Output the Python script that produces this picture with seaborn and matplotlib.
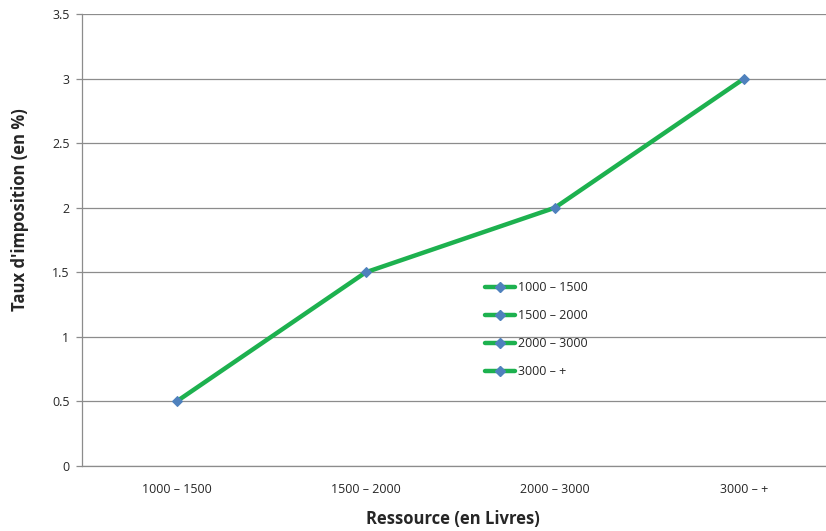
import matplotlib.pyplot as plt
import seaborn as sns
import pandas as pd
from matplotlib.lines import Line2D
from matplotlib.ticker import FuncFormatter

# Data
tranches = ['1000 – 1500', '1500 – 2000', '2000 – 3000', '3000 – +']
taux = [0.5, 1.5, 2.0, 3.0]

df = pd.DataFrame({'tranche': tranches, 'taux': taux})

sns.set_style('white')
plt.rcParams['font.family'] = ['Open Sans', 'DejaVu Sans']

green = '#1db14f'
blue = '#4f81bd'
grey = '#8c8c8c'

fig = plt.figure(figsize=(8.26, 5.31), dpi=100)
ax = fig.add_axes([0.0993, 0.1224, 0.916, 0.8512])

sns.lineplot(data=df, x='tranche', y='taux', ax=ax, color=green, linewidth=3.2,
             marker='D', markersize=5, markerfacecolor=blue, markeredgecolor=blue,
             sort=False, zorder=3)

ax.set_xlim(-0.5, 3.5)
ax.set_ylim(0, 3.5)
ax.set_yticks([0, 0.5, 1, 1.5, 2, 2.5, 3, 3.5])
ax.yaxis.set_major_formatter(FuncFormatter(lambda v, p: f'{v:g}'))
ax.yaxis.grid(True, color=grey, linewidth=0.9)
ax.xaxis.grid(False)
ax.set_axisbelow(True)

for s in ['top', 'right']:
    ax.spines[s].set_visible(False)
for s in ['left', 'bottom']:
    ax.spines[s].set_color(grey)
    ax.spines[s].set_linewidth(0.9)

ax.tick_params(axis='y', which='major', length=4, width=0.9, color=grey,
               labelsize=9, pad=5, left=True)
ax.tick_params(axis='x', which='major', length=0, labelsize=9, pad=12)

ax.set_xlabel('Ressource (en Livres)', fontsize=12, fontweight='bold', va='center')
ax.set_ylabel("Taux d'imposition (en %)", fontsize=12, fontweight='bold', va='center')
ax.xaxis.set_label_coords(0.49, -0.117)
ax.yaxis.set_label_coords(-0.082, 0.568)

handles = [Line2D([0], [0], color=green, linewidth=3.2, marker='D', markersize=5,
                  markerfacecolor=blue, markeredgecolor=blue) for _ in tranches]
ax.legend(handles, tranches, loc='upper left', bbox_to_anchor=(0.518, 0.434),
          frameon=False, fontsize=9, labelspacing=1.2, handlelength=2.4,
          handletextpad=0.25)

fig.savefig('out.png', dpi=100)
